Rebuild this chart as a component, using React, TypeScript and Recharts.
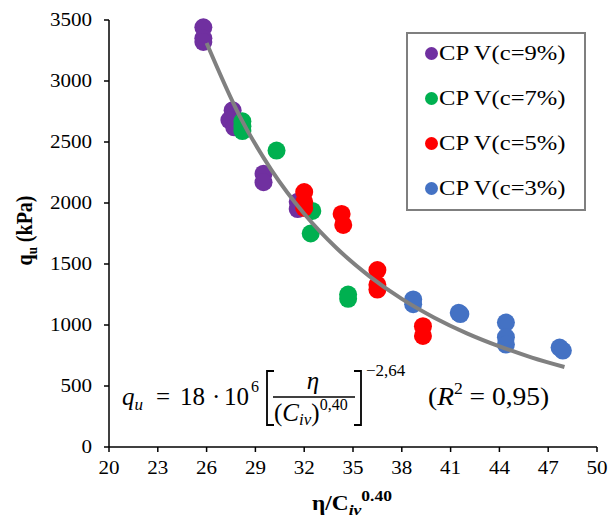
import { ScatterChart, Scatter, XAxis, YAxis, Legend } from "recharts";

const FONT = "Liberation Serif, Tinos, DejaVu Serif, serif";
const STRETCH = 1.17; // the original image is a bit wider than tall

// tick labels
const X_TICKS = [20, 23, 26, 29, 32, 35, 38, 41, 44, 47, 50];
const Y_TICKS = [0, 500, 1000, 1500, 2000, 2500, 3000, 3500];

// measured points, one list per cement content
const CP9 = [
  { x: 25.8, y: 3440 }, { x: 25.8, y: 3350 }, { x: 25.8, y: 3320 },
  { x: 27.6, y: 2760 }, { x: 27.4, y: 2680 }, { x: 27.7, y: 2620 },
  { x: 29.5, y: 2240 }, { x: 29.5, y: 2170 },
  { x: 31.6, y: 2010 }, { x: 31.6, y: 1950 },
];
const CP7 = [
  { x: 28.2, y: 2670 }, { x: 28.2, y: 2630 }, { x: 28.2, y: 2590 },
  { x: 30.3, y: 2430 },
  { x: 32.5, y: 1935 }, { x: 32.4, y: 1750 },
  { x: 34.7, y: 1250 }, { x: 34.7, y: 1215 },
];
const CP5 = [
  { x: 32.0, y: 2090 }, { x: 32.0, y: 2010 }, { x: 32.0, y: 1960 },
  { x: 34.3, y: 1910 }, { x: 34.4, y: 1820 },
  { x: 36.5, y: 1450 }, { x: 36.5, y: 1330 }, { x: 36.5, y: 1290 },
  { x: 39.3, y: 990 }, { x: 39.3, y: 910 },
];
const CP3 = [
  { x: 38.7, y: 1210 }, { x: 38.7, y: 1170 },
  { x: 41.5, y: 1100 }, { x: 41.6, y: 1090 },
  { x: 44.4, y: 1020 }, { x: 44.4, y: 900 }, { x: 44.4, y: 840 },
  { x: 47.7, y: 815 }, { x: 47.9, y: 790 },
];

// power trendline
const TREND_X = [26, 28, 30, 32, 34, 36, 38, 40, 42, 44, 46, 48];
const TREND_Y = [3311, 2721, 2268, 1912, 1629, 1401, 1214, 1060, 932, 825, 733, 656];
const trend = TREND_X.map((x, i) => ({ x, y: TREND_Y[i] }));

const SERIES = [
  { name: "CP V(c=9%)", color: "#7030A0", data: CP9 },
  { name: "CP V(c=7%)", color: "#00B050", data: CP7 },
  { name: "CP V(c=5%)", color: "#FF0000", data: CP5 },
  { name: "CP V(c=3%)", color: "#4472C4", data: CP3 },
];

function Dot(color: string) {
  return (p: any) => <circle cx={p.cx} cy={p.cy} r={9} fill={color} />;
}

function XTick(props: any) {
  return (
    <g transform={`translate(${props.x},${props.y}) scale(${STRETCH},1)`}>
      <text textAnchor="middle" dy="0.71em" fontFamily={FONT} fontSize={18} fill="#000">
        {props.payload.value}
      </text>
    </g>
  );
}

function YTick(props: any) {
  return (
    <g transform={`translate(${props.x},${props.y}) scale(${STRETCH},1)`}>
      <text textAnchor="end" dy="0.355em" fontFamily={FONT} fontSize={18} fill="#000">
        {props.payload.value}
      </text>
    </g>
  );
}

function LegendBox() {
  return (
    <div
      style={{
        width: 176,
        height: 175,
        border: "2px solid #7f7f7f",
        background: "#fff",
        fontFamily: FONT,
        fontSize: 21,
        color: "#000",
        boxSizing: "content-box",
      }}
    >
      {SERIES.map((s, i) => (
        <div
          key={s.name}
          style={{ position: "absolute", left: 19, top: 9 + i * 45, display: "flex", alignItems: "center", whiteSpace: "nowrap" }}
        >
          <span style={{ width: 13, height: 13, borderRadius: "50%", background: s.color, display: "inline-block", marginRight: 1 }} />
          <span style={{ display: "inline-block", transform: `scaleX(${STRETCH})`, transformOrigin: "left center" }}>{s.name}</span>
        </div>
      ))}
    </div>
  );
}

function XLabel(props: any) {
  const vb = props.viewBox;
  const cx = vb.x + vb.width / 2 - 1;
  return (
    <g transform={`translate(${cx},510) scale(${STRETCH},1)`}>
      <text x={0} y={0} textAnchor="middle" fontFamily={FONT} fontWeight="bold" fontSize={20} fill="#000">
        <tspan>η/C</tspan>
        <tspan fontSize={15} fontStyle="italic" dy={5}>iv</tspan>
        <tspan fontSize={15} dy={-14}>0.40</tspan>
      </text>
    </g>
  );
}

function YLabel(props: any) {
  const vb = props.viewBox;
  const cy = vb.y + vb.height / 2 - 3;
  return (
    <g transform={`translate(32, ${cy}) rotate(-90) scale(1,${STRETCH})`}>
      <text x={0} y={0} textAnchor="middle" fontFamily={FONT} fontWeight="bold" fontSize={20} fill="#000">
        <tspan>q</tspan>
        <tspan fontSize={13} dy={4}>u</tspan>
        <tspan dy={-4}> (kPa)</tspan>
      </text>
    </g>
  );
}

function Equation() {
  const f = { fontFamily: FONT, fill: "#000" };
  return (
    <svg width={608} height={522} style={{ position: "absolute", left: 0, top: 0, pointerEvents: "none" }}>
      <text x={122} y={405} fontSize={25} {...f}>
        <tspan fontStyle="italic">q</tspan>
        <tspan fontSize={17} fontStyle="italic" dy={5}>u</tspan>
      </text>
      <text x={156} y={405} fontSize={25} {...f}>=</text>
      <text x={180} y={405} fontSize={25} {...f}>18</text>
      <text x={212} y={405} fontSize={25} {...f}>·</text>
      <text x={224} y={405} fontSize={25} {...f}>10</text>
      <text x={251} y={392} fontSize={16} {...f}>6</text>
      <path d="M274 371 H267 V425 H274" stroke="#000" strokeWidth={1.8} fill="none" />
      <path d="M354 371 H361 V425 H354" stroke="#000" strokeWidth={1.8} fill="none" />
      <text x={313} y={389} fontSize={25} fontStyle="italic" textAnchor="middle" {...f}>η</text>
      <line x1={273} x2={355} y1={397} y2={397} stroke="#000" strokeWidth={1.5} />
      <text x={274} y={421} fontSize={25} {...f}>
        <tspan>(</tspan>
        <tspan fontStyle="italic">C</tspan>
        <tspan fontSize={17} fontStyle="italic" dy={4}>iv</tspan>
        <tspan dy={-4}>)</tspan>
        <tspan fontSize={16} dy={-11}>0,40</tspan>
      </text>
      <text x={366} y={376} fontSize={17} {...f}>−2,64</text>
      <g transform={`translate(428,405) scale(1.1,1)`}>
        <text x={0} y={0} fontSize={25} {...f}>
          <tspan>(</tspan>
          <tspan fontStyle="italic">R</tspan>
          <tspan fontSize={16} dy={-11}>2</tspan>
          <tspan dy={11}> = 0,95)</tspan>
        </text>
      </g>
    </svg>
  );
}

export default function App() {
  return (
    <div style={{ position: "absolute", left: 0, top: 0, width: 608, height: 522, background: "#fff" }}>
      <ScatterChart width={608} height={522} margin={{ top: 20, right: 11, bottom: 0, left: 0 }}>
        <XAxis
          type="number"
          dataKey="x"
          domain={[20, 50]}
          ticks={X_TICKS}
          interval={0}
          height={75}
          stroke="#000"
          strokeWidth={1.5}
          tickSize={5}
          tickMargin={9}
          tick={<XTick />}
          label={<XLabel />}
        />
        <YAxis
          type="number"
          dataKey="y"
          domain={[0, 3500]}
          ticks={Y_TICKS}
          interval={0}
          width={109}
          stroke="#000"
          strokeWidth={1.5}
          tickSize={5}
          tickMargin={12}
          tick={<YTick />}
          label={<YLabel />}
        />
        <Legend
          layout="vertical"
          align="center"
          verticalAlign="middle"
          content={() => <LegendBox />}
          wrapperStyle={{ left: 406, top: 32, width: 180, height: 179 }}
        />
        {SERIES.map((s) => (
          <Scatter key={s.name} name={s.name} data={s.data} fill={s.color} shape={Dot(s.color)} isAnimationActive={false} />
        ))}
        <Scatter
          name="trend"
          data={trend}
          legendType="none"
          line={{ stroke: "#808080", strokeWidth: 4 }}
          lineJointType="monotoneX"
          shape={() => <g />}
          isAnimationActive={false}
        />
      </ScatterChart>
      <Equation />
    </div>
  );
}
